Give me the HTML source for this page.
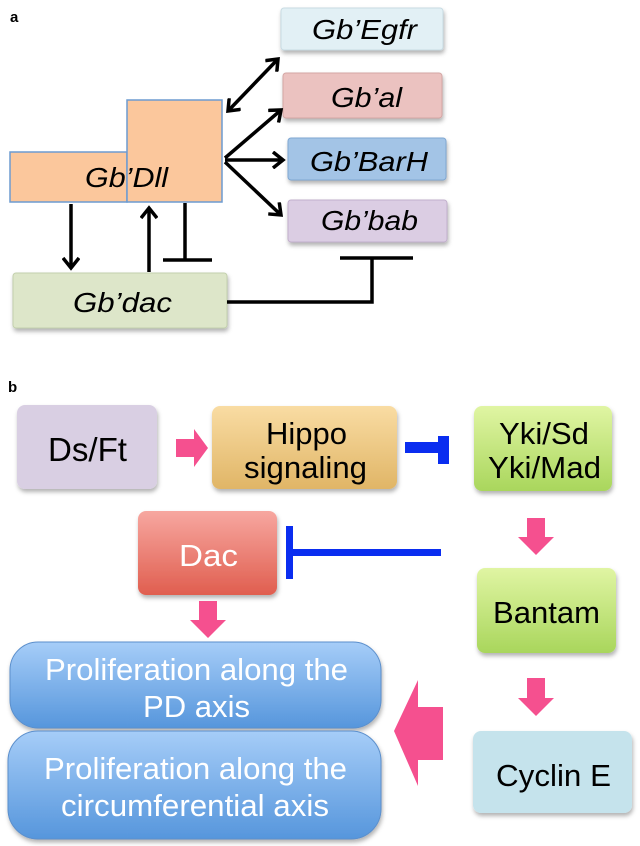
<!DOCTYPE html>
<html><head><meta charset="utf-8"><style>
body{margin:0;background:#fff}
svg{display:block}
text{font-family:"Liberation Sans",sans-serif}
</style></head><body>
<svg width="640" height="846" viewBox="0 0 640 846" xmlns="http://www.w3.org/2000/svg">
<defs>
<linearGradient id="hip" x1="0" y1="0" x2="0" y2="1"><stop offset="0" stop-color="#f9dca3"/><stop offset="1" stop-color="#e0b566"/></linearGradient>
<linearGradient id="grn" x1="0" y1="0" x2="0" y2="1"><stop offset="0" stop-color="#e0f5a3"/><stop offset="1" stop-color="#a9d65c"/></linearGradient>
<linearGradient id="dac" x1="0" y1="0" x2="0" y2="1"><stop offset="0" stop-color="#f7a7a0"/><stop offset="1" stop-color="#e05e4f"/></linearGradient>
<linearGradient id="blu" x1="0" y1="0" x2="0" y2="1"><stop offset="0" stop-color="#a6cdf8"/><stop offset="1" stop-color="#5696dc"/></linearGradient>
<filter id="sh" x="-10%" y="-10%" width="130%" height="140%"><feDropShadow dx="1" dy="3" stdDeviation="2" flood-opacity="0.3"/></filter>
<marker id="ah" markerWidth="16" markerHeight="18" refX="12" refY="9" orient="auto" markerUnits="userSpaceOnUse"><path d="M2,1 L12,9 L2,17" fill="none" stroke="#000" stroke-width="3.5"/></marker>
<marker id="ahs" markerWidth="16" markerHeight="18" refX="4" refY="9" orient="auto" markerUnits="userSpaceOnUse"><path d="M14,1 L4,9 L14,17" fill="none" stroke="#000" stroke-width="3.5"/></marker>
</defs>
<text x="10" y="22" font-size="15" font-weight="bold">a</text>
<g filter="url(#sh)" stroke-width="1">
<rect x="281" y="8" width="162" height="42" rx="3" fill="#e2f0f5" stroke="#c8dbe3"/>
<rect x="283" y="73" width="159" height="45" rx="3" fill="#ebc2c0" stroke="#d4a6a4"/>
<rect x="288" y="138" width="158" height="42" rx="3" fill="#a3c4e6" stroke="#7fa7d2"/>
<rect x="288" y="200" width="159" height="42" rx="3" fill="#dbcde3" stroke="#c2b0cc"/>
<rect x="13" y="273" width="214" height="55" rx="3" fill="#dde6c9" stroke="#c3d0ad"/>
</g>
<rect x="10" y="152" width="117" height="50" fill="#fbc79c" stroke="#6d9bd1" stroke-width="1.5"/>
<rect x="127" y="100" width="95" height="102" fill="#fbc79c" stroke="#6d9bd1" stroke-width="1.5"/>
<g font-style="italic" font-size="28" lengthAdjust="spacingAndGlyphs">
<text x="312" y="39" textLength="105" lengthAdjust="spacingAndGlyphs">Gb’Egfr</text>
<text x="331" y="107" textLength="71" lengthAdjust="spacingAndGlyphs">Gb’al</text>
<text x="310" y="171" textLength="118" lengthAdjust="spacingAndGlyphs">Gb’BarH</text>
<text x="321" y="230" textLength="97" lengthAdjust="spacingAndGlyphs">Gb’bab</text>
<text x="85" y="187" textLength="83" lengthAdjust="spacingAndGlyphs">Gb’Dll</text>
<text x="73" y="312" textLength="99" lengthAdjust="spacingAndGlyphs">Gb’dac</text>
</g>
<g stroke="#000" stroke-width="3.5" fill="none">
<line x1="71" y1="204" x2="71" y2="268" marker-end="url(#ah)"/>
<line x1="149" y1="272" x2="149" y2="208" marker-end="url(#ah)"/>
<line x1="185" y1="203" x2="185" y2="260"/><line x1="163" y1="260" x2="212" y2="260"/>
<polyline points="227,302 372,302 372,258"/><line x1="340" y1="258" x2="413" y2="258"/>
<line x1="228" y1="111" x2="278" y2="59" marker-start="url(#ahs)" marker-end="url(#ah)"/>
<line x1="225" y1="158" x2="281" y2="110" marker-end="url(#ah)"/>
<line x1="225" y1="160" x2="283" y2="160" marker-end="url(#ah)"/>
<line x1="225" y1="162" x2="281" y2="215" marker-end="url(#ah)"/>
</g>

<text x="8" y="392" font-size="15" font-weight="bold">b</text>
<g filter="url(#sh)">
<rect x="17" y="405" width="140" height="84" rx="8" fill="#d9cfe3"/>
<rect x="212" y="406" width="185" height="83" rx="8" fill="url(#hip)"/>
<rect x="474" y="406" width="138" height="85" rx="8" fill="url(#grn)"/>
<rect x="138" y="511" width="139" height="84" rx="8" fill="url(#dac)"/>
<rect x="477" y="568" width="139" height="85" rx="8" fill="url(#grn)"/>
<rect x="473" y="731" width="159" height="82" rx="8" fill="#c5e3ec"/>
<rect x="10" y="642" width="371" height="86" rx="28" fill="url(#blu)" stroke="#5b8fcc"/>
<rect x="8" y="731" width="373" height="108" rx="30" fill="url(#blu)" stroke="#5b8fcc"/>
</g>
<g font-size="31">
<text x="48" y="461" font-size="33" textLength="79" lengthAdjust="spacingAndGlyphs">Ds/Ft</text>
<text x="266" y="444" textLength="81" lengthAdjust="spacingAndGlyphs">Hippo</text>
<text x="244" y="478" textLength="123" lengthAdjust="spacingAndGlyphs">signaling</text>
<text x="499" y="444" textLength="90" lengthAdjust="spacingAndGlyphs">Yki/Sd</text>
<text x="488" y="478" textLength="113" lengthAdjust="spacingAndGlyphs">Yki/Mad</text>
<text x="179" y="566" fill="#fff" textLength="59" lengthAdjust="spacingAndGlyphs">Dac</text>
<text x="493" y="623" textLength="107" lengthAdjust="spacingAndGlyphs">Bantam</text>
<text x="496" y="786" textLength="115" lengthAdjust="spacingAndGlyphs">Cyclin E</text>
<g fill="#fff">
<text x="45" y="680" textLength="303" lengthAdjust="spacingAndGlyphs">Proliferation along the</text>
<text x="143" y="717" textLength="107" lengthAdjust="spacingAndGlyphs">PD axis</text>
<text x="44" y="779" textLength="303" lengthAdjust="spacingAndGlyphs">Proliferation along the</text>
<text x="61" y="816" textLength="268" lengthAdjust="spacingAndGlyphs">circumferential axis</text>
</g>
</g>
<g fill="#f5508f">
<polygon points="176,439 194,439 194,429 208,448 194,467 194,457 176,457"/>
<polygon points="527,518 545,518 545,537 554,537 536,555 518,537 527,537"/>
<polygon points="527,678 545,678 545,698 554,698 536,716 518,698 527,698"/>
<polygon points="199,601 217,601 217,620 226,620 208,638 190,620 199,620"/>
<polygon points="443,707 418,707 418,680 394,731 418,786 418,760 443,760"/>
</g>
<g fill="#0a2df0">
<rect x="405" y="442" width="36" height="11"/><rect x="438" y="436" width="11" height="28"/>
<rect x="293" y="549" width="148" height="7"/><rect x="286" y="526" width="7" height="53"/>
</g>
</svg>
</body></html>
